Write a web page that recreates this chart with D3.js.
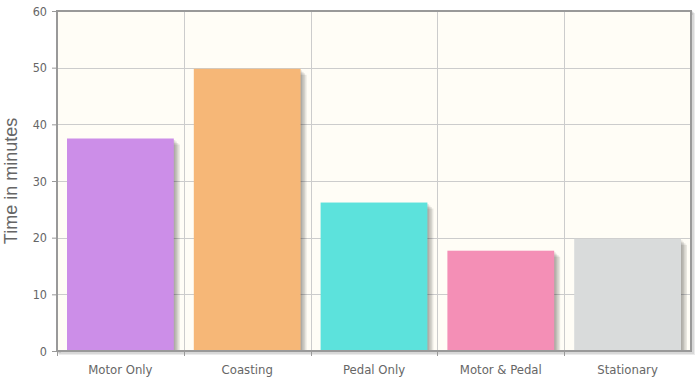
<html>
  <script src="https://d3js.org/d3.v7.min.js"></script>
  <style>
    body { margin: 0; background: #fff; }
    svg text { font-family: "DejaVu Sans Condensed", "DejaVu Sans", sans-serif; }
  </style>
  <body>
    <svg id="chart" width="700" height="383"></svg>
    <script>
      var categories = ["Motor Only", "Coasting", "Pedal Only", "Motor & Pedal", "Stationary"];
      var minutes = [37.5, 49.8, 26.2, 17.7, 19.8];
      var barColors = ["#cc8ee8", "#f6b777", "#5ce2dc", "#f48fb6", "#d9dbdb"];
      var yTicks = [0, 10, 20, 30, 40, 50, 60];

      var plotL = 57, plotR = 691, plotT = 11, plotB = 351;
      var svg = d3.select("#chart");

      var x = d3.scaleBand().domain(categories).range([plotL, plotR]).paddingInner(0).paddingOuter(0);
      var y = d3.scaleLinear().domain([0, 60]).range([plotB, plotT]);

      // plot area shadow
      for (var i = 1; i <= 3; i++) {
        svg.append("rect")
          .attr("x", plotL + i).attr("y", plotT + i)
          .attr("width", plotR - plotL).attr("height", plotB - plotT)
          .attr("fill", "none").attr("stroke", "#000").attr("stroke-opacity", 0.08)
          .attr("stroke-width", 2);
      }

      // background
      svg.append("rect")
        .attr("x", plotL).attr("y", plotT)
        .attr("width", plotR - plotL).attr("height", plotB - plotT)
        .attr("fill", "#fffdf6");

      // grid lines
      svg.append("g").selectAll("line").data(yTicks.slice(1, -1)).enter().append("line")
        .attr("x1", plotL).attr("x2", plotR)
        .attr("y1", function (d) { return Math.round(y(d)) + 0.5; })
        .attr("y2", function (d) { return Math.round(y(d)) + 0.5; })
        .attr("stroke", "#cccccc");
      svg.append("g").selectAll("line").data(categories.slice(1)).enter().append("line")
        .attr("x1", function (d) { return Math.round(x(d)) + 0.5; })
        .attr("x2", function (d) { return Math.round(x(d)) + 0.5; })
        .attr("y1", plotT).attr("y2", plotB)
        .attr("stroke", "#cccccc");

      // bars with shadows
      var pad = 10;
      var bars = svg.append("g");
      categories.forEach(function (c, i) {
        var bx = x(c) + pad, bw = x.bandwidth() - 2 * pad;
        for (var k = 4; k >= 1; k--) {
          bars.append("rect")
            .attr("x", bx + k * 1.5).attr("y", y(minutes[i]) + k * 1.5)
            .attr("width", bw).attr("height", plotB - y(minutes[i]) - k * 1.5)
            .attr("fill", "#000").attr("fill-opacity", 0.09);
        }
        bars.append("rect")
          .attr("x", bx).attr("y", y(minutes[i]))
          .attr("width", bw).attr("height", plotB - y(minutes[i]))
          .attr("fill", barColors[i]);
      });

      // border
      svg.append("rect")
        .attr("x", plotL).attr("y", plotT)
        .attr("width", plotR - plotL).attr("height", plotB - plotT)
        .attr("fill", "none").attr("stroke", "#999999").attr("stroke-width", 2);

      // y axis
      var yAxis = svg.append("g")
        .attr("transform", "translate(" + (plotL - 1) + ",0)")
        .call(d3.axisLeft(y).tickValues(yTicks).tickSize(4).tickPadding(5).tickFormat(d3.format("d")));
      yAxis.select(".domain").remove();
      yAxis.selectAll(".tick line").attr("stroke", "#999999");
      yAxis.selectAll("text").attr("fill", "#666666").style("font-size", "12.5px");

      // x axis
      var xTickPos = [plotL].concat(categories.slice(1).map(function (d) { return x(d); }));
      svg.append("g").selectAll("line").data(xTickPos).enter().append("line")
        .attr("x1", function (d) { return Math.round(d) + 0.5; })
        .attr("x2", function (d) { return Math.round(d) + 0.5; })
        .attr("y1", plotB + 1).attr("y2", plotB + 5)
        .attr("stroke", "#999999");
      svg.append("g").selectAll("text").data(categories).enter().append("text")
        .attr("x", function (d) { return x(d) + x.bandwidth() / 2; })
        .attr("y", 374)
        .attr("text-anchor", "middle")
        .attr("fill", "#666666")
        .style("font-size", "13px")
        .text(function (d) { return d; });

      // y label
      svg.append("text")
        .attr("transform", "translate(17," + ((plotT + plotB) / 2) + ") rotate(-90)")
        .attr("text-anchor", "middle")
        .attr("fill", "#666666")
        .style("font-family", "'Liberation Sans', Arial, sans-serif")
        .style("font-size", "18px")
        .text("Time in minutes");
    </script>
  </body>
</html>
